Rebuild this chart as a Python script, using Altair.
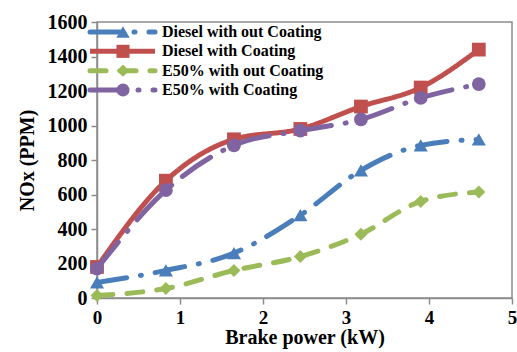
import altair as alt
import pandas as pd

power = [0.0, 0.83, 1.65, 2.45, 3.18, 3.9, 4.6]
diesel_no = [90, 160, 260, 480, 740, 885, 920]
diesel_co = [180, 680, 920, 980, 1110, 1220, 1440]
e50_no = [15, 55, 160, 240, 370, 560, 615]
e50_co = [170, 625, 885, 970, 1035, 1160, 1240]

names = ["Diesel with out Coating", "Diesel with Coating",
         "E50% with out Coating", "E50% with Coating"]
colors = ["#4A7EBB", "#C0504D", "#9BBB59", "#8064A2"]
shapes = ["triangle-up", "square", "diamond", "circle"]
dashes = [[30, 14, 1, 14], [1, 0], [16, 14], [34, 14, 1, 14]]
sizes = [200, 190, 170, 190]
series = [diesel_no, diesel_co, e50_no, e50_co]

FONT = "Liberation Serif"

layers = []
for i, (n, vals) in enumerate(zip(names, series)):
    df = pd.DataFrame({"x": power, "y": vals, "s": n})
    base = alt.Chart(df).encode(
        x=alt.X("x:Q", scale=alt.Scale(domain=[0, 5]),
                axis=alt.Axis(values=[0, 1, 2, 3, 4, 5], title="Brake power (kW)",
                              format="d", labelFlush=False)),
        y=alt.Y("y:Q", scale=alt.Scale(domain=[0, 1600]),
                axis=alt.Axis(values=list(range(0, 1601, 200)), title="NOx  (PPM)",
                              format="d", labelFlush=False)),
    )
    line = base.mark_line(color=colors[i], strokeWidth=5, interpolate="monotone",
                          strokeDash=dashes[i], strokeCap="round" if i != 1 else "butt")
    pts = base.mark_point(shape=shapes[i], filled=True, opacity=1, color=colors[i], size=sizes[i])
    layers += [line, pts]

# legend rows
leg = pd.DataFrame({"s": names, "row": [0, 1, 2, 3]})
yleg = alt.Y("row:O", scale=alt.Scale(type="point", range=[10, 68], padding=0), axis=None)
leg_layers = []
for i, n in enumerate(names):
    d = leg[leg.s == n]
    leg_layers.append(alt.Chart(d).mark_rule(color=colors[i], strokeWidth=5,
                                             strokeDash=dashes[i],
                                             strokeCap="round" if i != 1 else "butt").encode(
        x=alt.value(-7), x2=alt.value(58), y=yleg))
    leg_layers.append(alt.Chart(d).mark_point(shape=shapes[i], filled=True, opacity=1,
                                              color=colors[i], size=sizes[i] * 0.9).encode(
        x=alt.value(26), y=yleg))
text = alt.Chart(leg).mark_text(align="left", baseline="middle", font=FONT,
                                fontWeight="bold", fontSize=16, color="black").encode(
    x=alt.value(65), y=yleg, text="s:N")

main = alt.layer(*layers)
legend = alt.layer(*leg_layers, text)

chart = alt.layer(main, legend).resolve_scale(y="independent").properties(
    width=415, height=276,
    autosize=alt.AutoSizeParams(type="none"),
    padding={"left": 97, "top": 22, "right": 5, "bottom": 54},
).configure_view(stroke="#8c8c8c", strokeWidth=1.5).configure_axis(
    grid=False, domainColor="#8c8c8c", domainWidth=1.5, tickColor="#8c8c8c",
    tickWidth=1.5, tickSize=6, labelFont=FONT, labelFontWeight="bold",
    labelFontSize=20, labelColor="black", titleFont=FONT, titleFontWeight="bold",
    titleFontSize=20, titleColor="black", labelPadding=4,
).configure_axisY(titlePadding=10).configure_axisX(titlePadding=0, labelPadding=4,
                                                   labelFontSize=19)

chart.save("out.html", embed_options={"renderer": "svg", "actions": False})
